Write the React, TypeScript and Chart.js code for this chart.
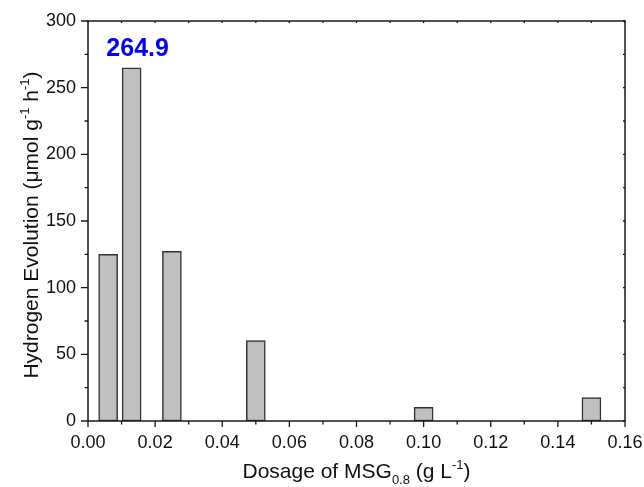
import React, { useEffect, useRef } from "react";
import { Chart, registerables } from "chart.js";

Chart.register(...registerables);

const dosages = [0.006, 0.013, 0.025, 0.05, 0.1, 0.15];
const evolution = [125, 264.9, 127.3, 60.3, 10.3, 17.5];
const highlightIndex = 1;
const highlightLabel = "264.9";
const xTitleParts = [
  { t: "Dosage of MSG" },
  { t: "0.8", sub: true },
  { t: " (g L" },
  { t: "-1", sup: true },
  { t: ")" },
];
const yTitleParts = [
  { t: "Hydrogen Evolution (\u03bcmol g" },
  { t: "-1", sup: true },
  { t: " h" },
  { t: "-1", sup: true },
  { t: ")" },
];

const FONT = "'Liberation Sans', Arial, sans-serif";
const AXIS = "#1a1a1a";

function drawRich(ctx: CanvasRenderingContext2D, parts: any[], cx: number, baseY: number, size: number) {
  const small = Math.round(size * 0.62);
  const widths = parts.map((p) => {
    ctx.font = `${p.sub || p.sup ? small : size}px ${FONT}`;
    return ctx.measureText(p.t).width;
  });
  const total = widths.reduce((a, b) => a + b, 0);
  let x = cx - total / 2;
  ctx.textAlign = "left";
  ctx.textBaseline = "alphabetic";
  parts.forEach((p, i) => {
    ctx.font = `${p.sub || p.sup ? small : size}px ${FONT}`;
    let y = baseY;
    if (p.sub) y += size * 0.3;
    if (p.sup) y -= size * 0.42;
    ctx.fillText(p.t, x, y);
    x += widths[i];
  });
}

const framePlugin = {
  id: "frame",
  afterDraw(chart: any) {
    const { ctx, chartArea } = chart;
    const { left, right, top, bottom } = chartArea;
    const xs = chart.scales.x;
    const ys = chart.scales.y;
    ctx.save();
    ctx.strokeStyle = AXIS;
    ctx.lineWidth = 1.5;
    ctx.strokeRect(left, top, right - left, bottom - top);

    const xt = xs.ticks.map((t: any) => t.value);
    const yt = ys.ticks.map((t: any) => t.value);
    const xMinor: number[] = [];
    for (let i = 0; i < xt.length - 1; i++) xMinor.push((xt[i] + xt[i + 1]) / 2);
    const yMinor: number[] = [];
    for (let i = 0; i < yt.length - 1; i++) yMinor.push((yt[i] + yt[i + 1]) / 2);

    ctx.lineWidth = 1.3;
    ctx.beginPath();
    xt.forEach((v: number) => {
      const px = xs.getPixelForValue(v);
      ctx.moveTo(px, bottom);
      ctx.lineTo(px, bottom + 6);
      ctx.moveTo(px, top);
      ctx.lineTo(px, top + 2);
    });
    xMinor.forEach((v) => {
      const px = xs.getPixelForValue(v);
      ctx.moveTo(px, bottom);
      ctx.lineTo(px, bottom + 3.5);
      ctx.moveTo(px, top);
      ctx.lineTo(px, top + 2);
    });
    yt.forEach((v: number) => {
      const py = ys.getPixelForValue(v);
      ctx.moveTo(left, py);
      ctx.lineTo(left - 7, py);
      ctx.moveTo(right, py);
      ctx.lineTo(right - 2, py);
    });
    yMinor.forEach((v) => {
      const py = ys.getPixelForValue(v);
      ctx.moveTo(left, py);
      ctx.lineTo(left - 3.5, py);
      ctx.moveTo(right, py);
      ctx.lineTo(right - 2, py);
    });
    ctx.stroke();

    // axis titles
    ctx.fillStyle = "#111";
    drawRich(ctx, xTitleParts, (left + right) / 2, 478, 21);
    ctx.save();
    ctx.translate(38, (top + bottom) / 2 + 4);
    ctx.rotate(-Math.PI / 2);
    drawRich(ctx, yTitleParts, 0, 0, 21);
    ctx.restore();

    // highlight label
    const bar = chart.getDatasetMeta(0).data[highlightIndex];
    if (bar) {
      ctx.fillStyle = "#0000ff";
      ctx.font = `bold 25px ${FONT}`;
      ctx.textAlign = "center";
      ctx.textBaseline = "middle";
      ctx.fillText(highlightLabel, bar.x + 6, bar.y - 19);
    }
    ctx.restore();
  },
};

export default function App() {
  const ref = useRef<HTMLCanvasElement | null>(null);
  useEffect(() => {
    if (!ref.current) return;
    const chart = new Chart(ref.current, {
      type: "bar",
      data: {
        datasets: [
          {
            data: dosages.map((x, i) => ({ x, y: evolution[i] })),
            backgroundColor: "#c0c0c0",
            borderColor: "#333333",
            borderWidth: 1.5,
            borderSkipped: false,
            barThickness: 19,
          } as any,
        ],
      },
      options: {
        animation: false,
        responsive: false,
        layout: { padding: { top: 21, right: 19, left: 0, bottom: 0 } },
        plugins: { legend: { display: false }, tooltip: { enabled: false } },
        scales: {
          x: {
            type: "linear",
            min: 0,
            max: 0.16,
            offset: false,
            grid: { display: false, drawTicks: false, tickLength: 0 },
            border: { display: false },
            ticks: {
              stepSize: 0.02,
              padding: 11,
              color: "#111",
              font: { family: FONT, size: 18 },
              maxRotation: 0,
              callback: (v: any) => Number(v).toFixed(2),
            },
            afterFit: (s: any) => {
              s.height = 66;
              s.paddingLeft = 0;
              s.paddingRight = 0;
            },
          },
          y: {
            min: 0,
            max: 300,
            grid: { display: false, drawTicks: false, tickLength: 0 },
            border: { display: false },
            ticks: {
              stepSize: 50,
              padding: 12,
              color: "#111",
              font: { family: FONT, size: 18 },
            },
            afterFit: (s: any) => {
              s.width = 88;
              s.paddingTop = 0;
              s.paddingBottom = 0;
            },
          },
        },
      } as any,
      plugins: [framePlugin],
    });
    return () => chart.destroy();
  }, []);
  return (
    <div style={{ position: "absolute", left: 0, top: 0, width: 644, height: 487, background: "#fff" }}>
      <canvas ref={ref} width={644} height={487} />
    </div>
  );
}
